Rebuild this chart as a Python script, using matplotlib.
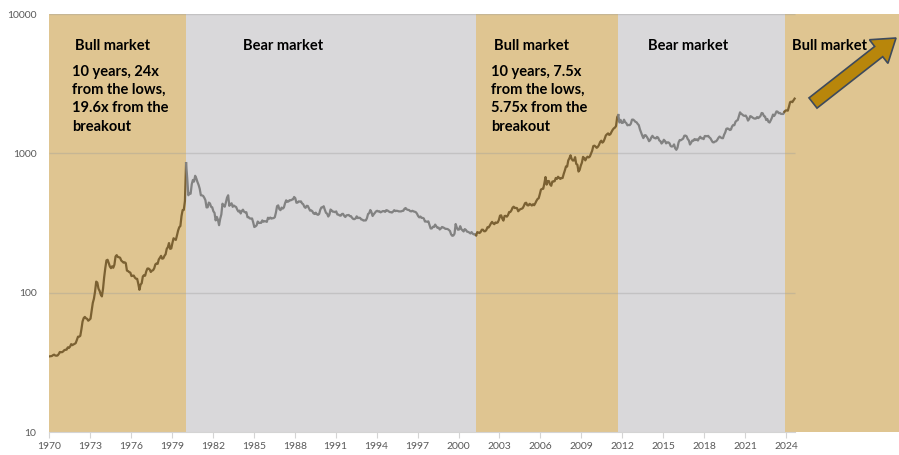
"""Gold price 1970-2024 on a log scale, shaded by bull / bear market."""

import matplotlib

matplotlib.use("Agg")
import matplotlib.pyplot as plt
import numpy as np
from matplotlib.patches import FancyArrow
from matplotlib.transforms import IdentityTransform

# monthly gold price (USD/oz), Jan 1970 .. Aug 2024
gold_1970s = [
    34.9, 35.0, 35.1, 35.6, 35.9, 35.4, 35.3, 35.4, 36.2, 37.5, 37.4, 37.4,
    37.9, 38.7, 38.9, 39.0, 40.5, 40.1, 41.0, 42.7, 42.0, 42.5, 42.9, 43.5,
    45.8, 48.3, 48.3, 49.0, 54.6, 62.1, 65.7, 67.0, 65.5, 64.9, 62.9, 63.9,
    65.1, 74.2, 84.4, 90.5, 102.0, 120.0, 118.0, 106.8, 103.0, 97.0, 94.0, 106.7,
    129.2, 150.2, 170.4, 172.2, 163.3, 154.1, 150.0, 154.6, 151.0, 158.8, 181.7, 185.9,
    180.3, 179.6, 178.2, 170.1, 167.3, 164.2, 165.2, 163.0, 144.1, 142.8, 140.5, 139.3,
    131.6, 132.3, 132.6, 128.2, 125.9, 125.7, 115.7, 104.9, 114.2, 116.9, 130.7, 133.6,
    132.3, 142.2, 148.9, 149.1, 146.8, 140.8, 143.9, 144.9, 149.6, 159.5, 162.0, 160.9,
    173.1, 178.1, 183.7, 175.3, 176.3, 183.8, 188.6, 206.1, 212.4, 227.1, 206.1, 207.8,
    227.3, 245.7, 242.1, 239.2, 257.4, 279.1, 294.7, 300.8, 355.1, 391.7, 392.5, 455.1,
]
gold_1980s = [
    850, 665, 500, 517, 513, 600, 644, 627, 690, 661, 623, 594,
    557, 500, 499, 495, 480, 461, 409, 410, 443, 437, 413, 410,
    384, 374, 330, 350, 334, 305, 339, 364, 435, 423, 414, 444,
    481, 500, 420, 432, 438, 413, 422, 416, 412, 394, 382, 388,
    370, 386, 394, 381, 377, 378, 348, 348, 341, 340, 341, 320,
    296, 299, 304, 324, 316, 317, 317, 330, 323, 326, 325, 322,
    345, 339, 346, 340, 342, 343, 348, 376, 418, 423, 398, 391,
    408, 401, 409, 438, 460, 449, 451, 461, 460, 465, 467, 486,
    477, 442, 443, 452, 451, 452, 437, 431, 413, 406, 420, 419,
    404, 388, 390, 384, 371, 367, 375, 365, 362, 367, 394, 409,
]
gold_1990s = [
    410, 417, 393, 374, 369, 352, 362, 395, 389, 381, 381, 378,
    383, 364, 363, 358, 357, 367, 368, 356, 349, 359, 360, 361,
    354, 354, 344, 338, 337, 341, 353, 343, 345, 344, 335, 334,
    329, 330, 330, 342, 367, 372, 392, 378, 355, 365, 374, 383,
    387, 382, 384, 377, 381, 385, 385, 380, 391, 389, 384, 379,
    378, 376, 382, 391, 385, 387, 386, 383, 383, 383, 386, 387,
    400, 405, 396, 393, 392, 385, 383, 387, 383, 381, 378, 369,
    355, 347, 352, 344, 344, 341, 324, 324, 323, 325, 306, 289,
    289, 297, 296, 308, 299, 292, 293, 284, 289, 296, 294, 291,
    287, 287, 286, 282, 277, 262, 256, 257, 265, 311, 293, 283,
]
gold_2000s = [
    284, 300, 286, 280, 275, 286, 282, 274, 273, 270, 266, 272,
    265, 262, 263, 258, 272, 270, 268, 273, 283, 283, 276, 276,
    282, 295, 294, 303, 314, 322, 314, 310, 319, 317, 319, 333,
    357, 359, 340, 329, 355, 356, 351, 360, 379, 379, 389, 407,
    414, 405, 406, 404, 384, 392, 398, 400, 405, 420, 439, 442,
    424, 423, 434, 429, 422, 431, 424, 438, 456, 470, 476, 510,
    550, 555, 557, 610, 676, 596, 633, 632, 598, 585, 627, 629,
    631, 665, 655, 679, 667, 655, 665, 665, 712, 754, 806, 803,
    889, 922, 968, 909, 888, 889, 939, 839, 829, 740, 760, 816,
    858, 943, 924, 890, 928, 946, 934, 949, 996, 1043, 1127, 1135,
]
gold_2010s = [
    1118, 1095, 1113, 1148, 1205, 1232, 1193, 1215, 1271, 1343, 1370, 1391,
    1356, 1372, 1424, 1473, 1510, 1529, 1572, 1820, 1880, 1665, 1739, 1652,
    1656, 1743, 1675, 1649, 1589, 1598, 1594, 1630, 1744, 1747, 1721, 1684,
    1671, 1627, 1593, 1487, 1414, 1343, 1286, 1347, 1349, 1316, 1275, 1222,
    1244, 1300, 1336, 1299, 1287, 1279, 1311, 1296, 1239, 1222, 1176, 1200,
    1251, 1227, 1179, 1198, 1199, 1181, 1128, 1118, 1125, 1159, 1086, 1060,
    1097, 1200, 1246, 1242, 1260, 1276, 1337, 1341, 1326, 1267, 1238, 1157,
    1192, 1234, 1231, 1267, 1246, 1260, 1236, 1283, 1315, 1280, 1283, 1265,
    1331, 1331, 1325, 1335, 1303, 1282, 1238, 1202, 1198, 1215, 1221, 1250,
    1291, 1320, 1300, 1286, 1284, 1359, 1413, 1500, 1510, 1495, 1470, 1480,
]
gold_2020s = [
    1560, 1597, 1592, 1683, 1716, 1732, 1846, 1968, 1921, 1900, 1866, 1858,
    1867, 1808, 1718, 1760, 1850, 1834, 1807, 1785, 1775, 1777, 1821, 1790,
    1817, 1856, 1948, 1937, 1849, 1837, 1733, 1764, 1681, 1664, 1726, 1798,
    1898, 1855, 1912, 1999, 1992, 1942, 1950, 1918, 1916, 1916, 1985, 2030,
    2033, 2024, 2160, 2330, 2350, 2330, 2400, 2470,
]

# market phases: start year and kind; the last one runs off the axis
phase_starts = [1970.0, 1980.06, 2001.3, 2011.72, 2023.9]
phase_kinds = ["bull", "bear", "bull", "bear", "bull"]

labels = [
    (1971.9, "Bull market", "10 years, 24x\nfrom the lows,\n19.6x from the\nbreakout"),
    (1984.2, "Bear market", None),
    (2002.6, "Bull market", "10 years, 7.5x\nfrom the lows,\n5.75x from the\nbreakout"),
    (2013.9, "Bear market", None),
    (2024.4, "Bull market", None),
]

year_ticks = list(range(1970, 2025, 3))

BULL_FILL = "#dfc591"
BEAR_FILL = "#d9d8da"
BULL_LINE = "#7b6132"
BEAR_LINE = "#828282"
TEXT_GREY = "#595959"

plt.rcParams["font.family"] = ["Lato", "DejaVu Sans"]

price = np.array(gold_1970s + gold_1980s + gold_1990s + gold_2000s + gold_2010s + gold_2020s, float)
t = 1970 + (np.arange(len(price)) + 0.5) / 12

W, H = 899, 455
fig = plt.figure(figsize=(W / 100, H / 100), dpi=100)
x_right = 1970 + (W - 49) / 13.65
ax = fig.add_axes([49 / W, 1 - 432 / H, (W - 49) / W, (432 - 14) / H])
ax.set_yscale("log")
ax.set_xlim(1970, x_right)
ax.set_ylim(10, 10000)

ends = phase_starts[1:] + [x_right]
for start, end, kind in zip(phase_starts, ends, phase_kinds):
    ax.axvspan(start, end, color=BULL_FILL if kind == "bull" else BEAR_FILL, lw=0, zorder=0)
    sel = np.where((t >= start) & (t <= end))[0]
    if sel.size == 0:
        continue
    lo, hi = max(sel[0] - 1, 0), sel[-1] + 1
    if start == phase_starts[0]:
        lo = 0
    ax.plot(t[lo:hi], price[lo:hi], color=BULL_LINE if kind == "bull" else BEAR_LINE,
            lw=1.6, zorder=3, solid_joinstyle="round")

grid_end = 2024.65
ax.hlines([100, 1000, 10000], 1970, grid_end, color="#9a9a9a", alpha=0.35, lw=1, zorder=1)

for s in ["top", "right", "left"]:
    ax.spines[s].set_visible(False)
ax.spines["bottom"].set_bounds(1970, grid_end)
ax.spines["bottom"].set_color("#d4d4d4")
ax.spines["bottom"].set_zorder(2)

ax.set_xticks(year_ticks)
ax.set_xticklabels([str(y) for y in year_ticks])
ax.tick_params(axis="x", length=4, color="#d4d4d4", labelsize=7.5, labelcolor=TEXT_GREY, pad=3)
ax.set_yticks([10, 100, 1000, 10000])
ax.set_yticklabels(["10", "100", "1000", "10000"])
ax.yaxis.set_minor_locator(matplotlib.ticker.NullLocator())
ax.tick_params(axis="y", length=0, labelsize=7.5, labelcolor=TEXT_GREY, pad=9)

for x, head, body in labels:
    ax.text(x, 5890, head, fontsize=10.5, fontweight="bold", color="black",
            ha="left", va="center", zorder=4)
    if body:
        ax.text(x - 0.2, 4300, body, fontsize=10.5, fontweight="bold", color="black",
                ha="left", va="top", linespacing=1.38, zorder=4)

# trend arrow, drawn in pixel space
arrow = FancyArrow(813, H - 103, 83, 65, width=13, head_width=30, head_length=22,
                   length_includes_head=True, transform=IdentityTransform(),
                   facecolor="#b8860b", edgecolor="#3d4a5c", lw=1.2, zorder=5)
fig.patches.append(arrow)

fig.savefig("out.png", dpi=100)
